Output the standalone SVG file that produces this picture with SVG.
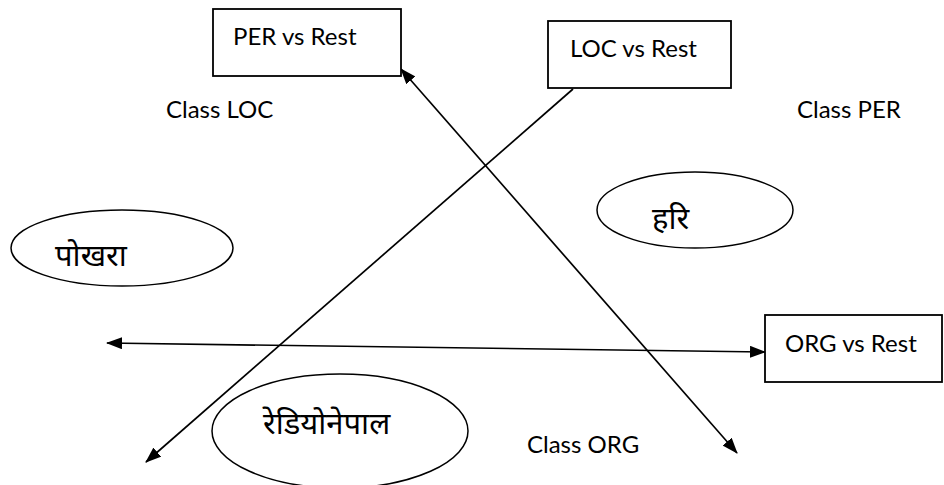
<svg xmlns="http://www.w3.org/2000/svg" width="944" height="485" viewBox="0 0 944 485">
<style>
.box{fill:#fff;stroke:#000;stroke-width:1.8}
.ell{fill:#fff;stroke:#000;stroke-width:1.5}
.conn{stroke:#000;stroke-width:1.7;fill:none}
.lbl{font-family:Lato,"Liberation Sans",sans-serif;font-size:24px;fill:#000}
.dev{font-family:"Noto Sans Devanagari","Lohit Devanagari","Noto Sans",sans-serif;font-size:31px;fill:#000}
</style>
<defs>
<marker id="ah" viewBox="0 0 16 12" refX="15" refY="6" markerWidth="16" markerHeight="12" markerUnits="userSpaceOnUse" orient="auto-start-reverse">
<path d="M0,0 L16,6 L0,12 Z" fill="#000"/>
</marker>
</defs>
<rect width="944" height="485" fill="#fff"/>
<g id="connectors">
<line class="conn" x1="401" y1="69" x2="737" y2="453" marker-start="url(#ah)" marker-end="url(#ah)"/>
<line class="conn" x1="573" y1="89" x2="146" y2="462" marker-end="url(#ah)"/>
<line class="conn" x1="107" y1="343" x2="765" y2="352" marker-start="url(#ah)" marker-end="url(#ah)"/>
</g>
<g id="per-vs-rest">
<rect class="box" x="213" y="9" width="188" height="67"/>
<text class="lbl" x="233" y="45">PER vs Rest</text>
</g>
<g id="loc-vs-rest">
<rect class="box" x="548" y="21" width="183" height="67"/>
<text class="lbl" x="570" y="57">LOC vs Rest</text>
</g>
<g id="org-vs-rest">
<rect class="box" x="765" y="315" width="177" height="67"/>
<text class="lbl" x="785" y="352">ORG vs Rest</text>
</g>
<g id="pokhara">
<ellipse class="ell" cx="122" cy="248" rx="111" ry="38"/>
<text class="dev" x="55" y="266">पोखरा</text>
</g>
<g id="hari">
<ellipse class="ell" cx="695" cy="210" rx="98" ry="38"/>
<text class="dev" x="652" y="229">हरि</text>
</g>
<g id="radionepal">
<ellipse class="ell" cx="340" cy="431" rx="128" ry="57"/>
<text class="dev" x="263" y="434">रेडियोनेपाल</text>
</g>
<g id="class-loc"><text class="lbl" x="166" y="118">Class LOC</text></g>
<g id="class-per"><text class="lbl" x="797" y="118">Class PER</text></g>
<g id="class-org"><text class="lbl" x="527" y="453">Class ORG</text></g>
</svg>
